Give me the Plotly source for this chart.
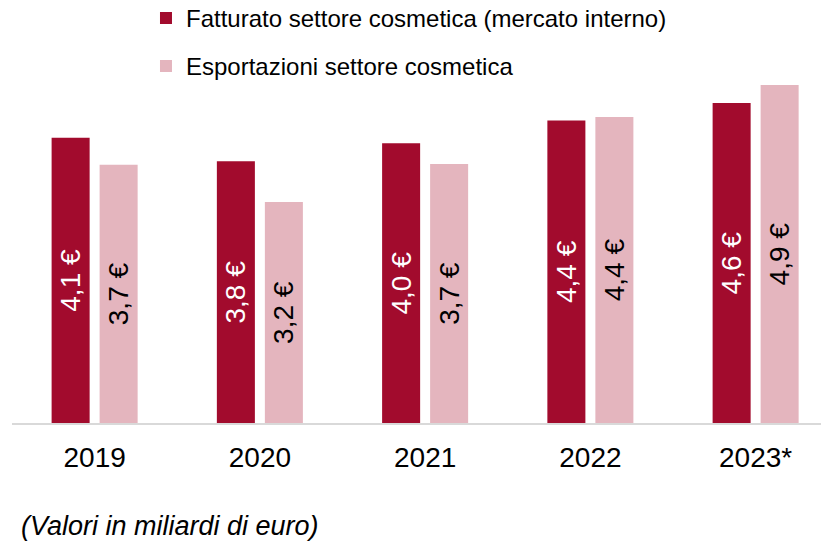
"""
Fatturato ed esportazioni del settore cosmetica, 2019-2023*.
Grouped bar chart with rotated value labels inside the bars.
"""

import plotly.graph_objects as go


# ---------------------------------------------------------------------------
# Data (miliardi di euro)
# ---------------------------------------------------------------------------

YEARS = ["2019", "2020", "2021", "2022", "2023*"]
FATTURATO = [4.12, 3.78, 4.04, 4.37, 4.62]
EXPORT = [3.73, 3.19, 3.74, 4.42, 4.88]

NAME_FATTURATO = "Fatturato settore cosmetica (mercato interno)"
NAME_EXPORT = "Esportazioni settore cosmetica"
FOOTNOTE = "(Valori in miliardi di euro)"

DARK = "#A20B2D"
PINK = "#E4B5BE"
FONT = "Liberation Sans, Arial, sans-serif"


def _label(v: float) -> str:
    return f"{v:.1f}".replace(".", ",") + " €"


fig = go.Figure()

for name, vals, color, txt_color, group in [
    (NAME_FATTURATO, FATTURATO, DARK, "white", "a"),
    (NAME_EXPORT, EXPORT, PINK, "black", "b"),
]:
    fig.add_trace(
        go.Bar(
            x=YEARS,
            y=vals,
            name=name,
            legendgroup=group,
            marker=dict(color=color, line=dict(width=0)),
            text=[_label(v) for v in vals],
            textposition="inside",
            insidetextanchor="middle",
            textangle=-90,
            constraintext="none",
            textfont=dict(color=txt_color, size=28, family=FONT),
            hovertemplate="%{x}: %{y:.1f}<extra>" + name + "</extra>",
        )
    )

fig.add_annotation(
    text=FOOTNOTE,
    xref="paper",
    yref="paper",
    x=0.0086,
    y=-0.2556,
    xanchor="left",
    yanchor="middle",
    showarrow=False,
    font=dict(size=27, family=FONT, color="black", style="italic"),
)

# page body adds an 8px margin, so the figure is 8px smaller than the window
fig.update_layout(
    width=821,
    height=533,
    barmode="group",
    bargap=0.419,
    bargroupgap=0.208,
    paper_bgcolor="white",
    plot_bgcolor="white",
    font=dict(family=FONT, color="black"),
    margin=dict(l=4, r=0, t=12, b=118, autoexpand=False),
    showlegend=True,
    legend=dict(
        x=0.164,
        y=1.06,
        xanchor="left",
        yanchor="top",
        traceorder="grouped",
        tracegroupgap=14,
        font=dict(size=24, family=FONT, color="black"),
        bgcolor="rgba(0,0,0,0)",
    ),
    xaxis=dict(
        range=[-0.5, 4.444],
        showline=True,
        linecolor="#D9D9D9",
        linewidth=2,
        ticks="",
        showgrid=False,
        tickfont=dict(size=28, family=FONT, color="black"),
        ticklabelstandoff=8,
    ),
    yaxis=dict(
        range=[0, 5.82],
        visible=False,
        showgrid=False,
        zeroline=False,
    ),
)

fig.write_html("out.html")
